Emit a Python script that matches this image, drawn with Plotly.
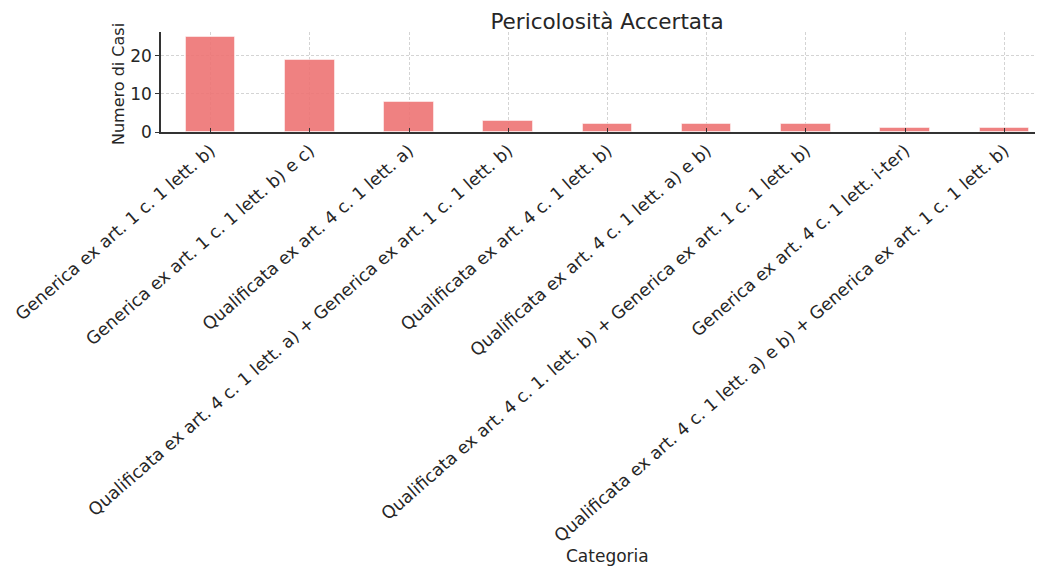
import plotly.graph_objects as go

categories = [
    "Generica ex art. 1 c. 1 lett. b)",
    "Generica ex art. 1 c. 1 lett. b) e c)",
    "Qualificata ex art. 4 c. 1 lett. a)",
    "Qualificata ex art. 4 c. 1 lett. a) + Generica ex art. 1 c. 1 lett. b)",
    "Qualificata ex art. 4 c. 1 lett. b)",
    "Qualificata ex art. 4 c. 1 lett. a) e b)",
    "Qualificata ex art. 4 c. 1. lett. b) + Generica ex art. 1 c. 1 lett. b)",
    "Generica ex art. 4 c. 1 lett. i-ter)",
    "Qualificata ex art. 4 c. 1 lett. a) e b) + Generica ex art. 1 c. 1 lett. b)",
]
values = [25, 19, 8, 3, 2, 2, 2, 1, 1]

FONT = "DejaVu Sans"
TXT = "#262626"

# page body has an 8px margin: offset margins so the plot area lands where intended
OFF = 8
L, R, T, BOT = 161, 1043, 32, 132  # intended screen coords of plot area
fig = go.Figure(
    go.Bar(
        x=list(range(len(categories))),
        y=values,
        width=0.5,
        marker=dict(color="#EE7474", opacity=0.9, line=dict(color="rgba(255,255,255,0.5)", width=1)),
        showlegend=False,
    )
)

W, H = 1043, 567
fig.update_layout(
    width=W,
    height=H,
    margin=dict(l=L - OFF, r=W - (R - OFF), t=T - OFF, b=H - (BOT - OFF)),
    paper_bgcolor="white",
    plot_bgcolor="white",
    font=dict(family=FONT, size=15, color=TXT),
    title=dict(
        text="Pericolosità Accertata",
        x=(607 - OFF) / W,
        xanchor="center",
        y=1 - 13 / H,
        yanchor="middle",
        font=dict(family=FONT, size=21.5, color=TXT),
    ),
    bargap=0,
    annotations=[
        dict(
            text="Categoria",
            xref="paper", yref="paper",
            x=(607 - L) / (R - L), y=-(556 - BOT) / (BOT - T),
            xanchor="center", yanchor="middle",
            showarrow=False,
            font=dict(family=FONT, size=17, color=TXT),
        ),
        dict(
            text="Numero di Casi",
            xref="paper", yref="paper",
            x=(118 - L) / (R - L), y=(BOT - 84) / (BOT - T),
            xanchor="center", yanchor="middle",
            textangle=-90,
            showarrow=False,
            font=dict(family=FONT, size=16, color=TXT),
        ),
    ],
)

fig.update_xaxes(
    range=[-0.5, 8.39],
    tickmode="array",
    tickvals=list(range(len(categories))),
    ticktext=categories,
    tickangle=-41,
    tickfont=dict(family=FONT, size=17.4, color=TXT),
    ticklabeloverflow="allow",
    ticks="inside",
    ticklen=4,
    tickcolor="#333333",
    showline=True,
    linecolor="#333333",
    linewidth=1.5,
    showgrid=True,
    gridcolor="#d4d4d4",
    griddash="3px,2px",
    gridwidth=1,
    zeroline=False,
    automargin=False,
)

fig.update_yaxes(
    range=[0, 26.25],
    tickvals=[0, 10, 20],
    tickfont=dict(family=FONT, size=17, color=TXT),
    ticks="outside",
    ticklen=4,
    tickcolor="#333333",
    showline=True,
    linecolor="#333333",
    linewidth=1.5,
    showgrid=True,
    gridcolor="#d4d4d4",
    griddash="3px,2px",
    gridwidth=1,
    zeroline=False,
    automargin=False,
)

fig.write_html("out.html")
